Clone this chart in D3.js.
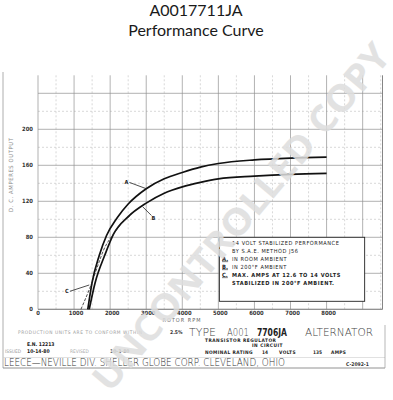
<!DOCTYPE html>
<html><head><meta charset="utf-8">
<script src="https://cdn.jsdelivr.net/npm/d3@7"></script>
<style>
html,body{margin:0;padding:0;background:#fff;}
svg{display:block;}
</style></head>
<body>
<svg id="c" width="393" height="400"></svg>
<script>
// ---- data ----
const titleLines = ["A0017711JA", "Performance Curve"];
const xTicks = [0, 1000, 2000, 3000, 4000, 5000, 6000, 7000, 8000];
const yTicks = [0, 40, 80, 120, 160, 200];
// curve A: room ambient (rpm, amps)
const curveA_rpm  = [1380, 1500, 1700, 1900, 2200, 2500, 3000, 3500, 4000, 4500, 5000, 6000, 7000, 8000];
const curveA_amps = [0, 30, 60, 82, 102, 117, 134, 145, 152, 158, 162, 166, 168, 169];
// curve B: 200F ambient
const curveB_rpm  = [1420, 1580, 1850, 2100, 2500, 3000, 3500, 4000, 4500, 5000, 6000, 7000, 8000];
const curveB_amps = [0, 29, 60, 84, 103, 118, 129, 136, 141, 145, 148, 150, 151];
// curve C: max amps at 12.6 to 14 volts (dashed)
const curveC_rpm  = [1190, 1450, 1680, 1820, 2100, 2330, 2560];
const curveC_amps = [0, 25, 51, 66, 84, 96, 104];
const legendLines = [
  ["", "14    VOLT STABILIZED PERFORMANCE", false],
  ["", "BY S.A.E. METHOD   J56", false],
  ["A.", "IN ROOM AMBIENT", false],
  ["B.", "IN 200°F AMBIENT", false],
  ["C.", "MAX. AMPS AT 12.6  TO  14 VOLTS", true],
  ["", "STABILIZED IN 200°F AMBIENT.", true]
];

const svg = d3.select("#c");
const x = d3.scaleLinear().domain([0, 9550]).range([38, 382.5]);
const y = d3.scaleLinear().domain([0, 260]).range([309.3, 75.3]);

// title
svg.append("g").selectAll("text").data(titleLines).join("text")
  .attr("x", 196).attr("y", (d,i)=>16+i*20)
  .attr("text-anchor","middle")
  .style("font-family","Lato, 'Open Sans', sans-serif")
  .style("font-size","16px").attr("fill","#1a1a1a").text(d=>d);

// grid
const g = svg.append("g");
const majX = d3.range(0, 9001, 1000), minX = d3.range(500, 9600, 1000);
const majY = d3.range(0, 261, 40), minY = d3.range(20, 260, 40);
g.selectAll(".mnx").data(minX).join("line")
  .attr("x1",d=>x(d)).attr("x2",d=>x(d)).attr("y1",y(0)).attr("y2",y(260))
  .attr("stroke","#bdbdbd").attr("stroke-width",0.6).attr("stroke-dasharray","2,2");
g.selectAll(".mny").data(minY).join("line")
  .attr("x1",x(0)).attr("x2",x(9550)).attr("y1",d=>y(d)).attr("y2",d=>y(d))
  .attr("stroke","#bdbdbd").attr("stroke-width",0.6).attr("stroke-dasharray","2,2");
g.selectAll(".mjx").data(majX).join("line")
  .attr("x1",d=>x(d)).attr("x2",d=>x(d)).attr("y1",y(0)).attr("y2",y(260))
  .attr("stroke","#909090").attr("stroke-width",0.7);
g.selectAll(".mjy").data(majY).join("line")
  .attr("x1",x(0)).attr("x2",x(9550)).attr("y1",d=>y(d)).attr("y2",d=>y(d))
  .attr("stroke","#909090").attr("stroke-width",0.7);
g.append("line").attr("x1",x(9550)).attr("x2",x(9550)).attr("y1",y(0)).attr("y2",y(260))
  .attr("stroke","#777").attr("stroke-width",0.9);
g.append("line").attr("x1",x(0)).attr("x2",x(9550)).attr("y1",y(0)).attr("y2",y(0))
  .attr("stroke","#777").attr("stroke-width",0.8);

// axes labels
const tickFont = "'DejaVu Sans Condensed','DejaVu Sans',sans-serif";
svg.append("g").selectAll("text").data(yTicks).join("text")
  .attr("x", 33).attr("y", d=>y(d)+2)
  .attr("text-anchor","end").style("font-family",tickFont).style("font-weight","bold")
  .style("font-size","5.8px").attr("fill","#333").text(d=>d);
svg.append("g").selectAll("text").data(xTicks).join("text")
  .attr("x", d=>x(d)+ (d===0?0:2)).attr("y", 315)
  .attr("text-anchor","middle").style("font-family",tickFont).style("font-weight","bold")
  .style("font-size","5.8px").attr("fill","#333").text(d=>d);
svg.append("text").attr("x", 182).attr("y", 322).attr("text-anchor","middle")
  .style("font-family",tickFont).style("font-size","5.5px").attr("fill","#666")
  .attr("letter-spacing","1").text("ROTOR  RPM");
svg.append("text").attr("transform","translate(13,175) rotate(-90)").attr("text-anchor","middle")
  .style("font-family",tickFont).style("font-size","5.8px").attr("fill","#8a8a8a")
  .attr("textLength", 74).attr("lengthAdjust","spacing")
  .text("D. C.  AMPERES  OUTPUT");

// curves
const line = d3.line().x(d=>x(d[0])).y(d=>y(d[1])).curve(d3.curveMonotoneX);
const A = curveA_rpm.map((r,i)=>[r, curveA_amps[i]]);
const B = curveB_rpm.map((r,i)=>[r, curveB_amps[i]]);
const C = curveC_rpm.map((r,i)=>[r, curveC_amps[i]]);
svg.append("path").datum(A).attr("d", line).attr("fill","none").attr("stroke","#111").attr("stroke-width",1.7);
svg.append("path").datum(B).attr("d", line).attr("fill","none").attr("stroke","#111").attr("stroke-width",1.7);
svg.append("path").datum(C).attr("d", line).attr("fill","none").attr("stroke","#222").attr("stroke-width",0.8).attr("stroke-dasharray","3,1.5");

// curve annotations: label position (rpm, amps) and leader end (rpm, amps)
const annLabels = ["A", "B", "C"];
const annText = [[2450, 141], [3200, 102], [800, 20]];
const annEnd  = [[3000, 134], [2900, 114], [1420, 27]];
const ann = svg.append("g");
annLabels.forEach((lab,i)=>{
  ann.append("text").attr("x", x(annText[i][0])).attr("y", y(annText[i][1])+2)
    .attr("text-anchor","middle").style("font-family",tickFont).style("font-weight","bold")
    .style("font-size","5.6px").attr("fill","#222").text(lab);
  const sx = x(annText[i][0]) + (i===1 ? -2 : 3), sy = y(annText[i][1]) + (i===1 ? -2 : 0);
  ann.append("line").attr("x1",sx).attr("y1",sy)
    .attr("x2",x(annEnd[i][0])).attr("y2",y(annEnd[i][1]))
    .attr("stroke","#222").attr("stroke-width",0.8);
});

// legend box
const lb = svg.append("g");
lb.append("rect").attr("x", x(5000)+1).attr("y", y(80)).attr("width", x(9000)-x(5000)+1).attr("height", y(20)-y(80)+10)
  .attr("fill","#fff").attr("stroke","#222").attr("stroke-width",0.9);
legendLines.forEach((l,i)=>{
  const yy = 244.5 + i*8;
  if (l[0]) {
    lb.append("text").attr("x", 222).attr("y", yy).style("font-family",tickFont)
      .style("font-size","5.8px").style("font-weight","bold").attr("fill","#222")
      .attr("text-decoration","underline").text(l[0]);
  }
  lb.append("text").attr("x", 232).attr("y", yy).style("font-family",tickFont)
    .style("font-size","5.6px").style("font-weight", l[2] ? "bold" : "normal")
    .attr("letter-spacing","0.55").attr("fill","#222").text(l[1]);
});

// title block
const tb = svg.append("g");
tb.append("line").attr("x1",3).attr("x2",3).attr("y1",72).attr("y2",368).attr("stroke","#999").attr("stroke-width",0.8);
tb.append("line").attr("x1",3).attr("x2",385).attr("y1",368).attr("y2",368).attr("stroke","#777").attr("stroke-width",0.8);
tb.append("line").attr("x1",3).attr("x2",385).attr("y1",357.5).attr("y2",357.5).attr("stroke","#ccc").attr("stroke-width",0.6);
tb.append("line").attr("x1",385).attr("x2",385).attr("y1",325).attr("y2",368).attr("stroke","#999").attr("stroke-width",0.7);
const small = (t, xx, yy, opt={}) => {
  const s = tb.append("text").attr("x",xx).attr("y",yy)
  .style("font-family", opt.font || tickFont).style("font-size", (opt.size||5.2)+"px")
  .style("font-weight", opt.weight || (opt.bold ? "bold" : "normal")).attr("fill", opt.fill || "#222")
  .attr("letter-spacing", opt.ls || 0).attr("text-anchor", opt.anchor || "start").text(t);
  if (opt.len) s.attr("textLength", opt.len).attr("lengthAdjust","spacingAndGlyphs");
  return s;
};
const lightFont = "'DejaVu Sans',sans-serif";
small("PRODUCTION  UNITS  ARE  TO  CONFORM  WITHIN", 18, 334, {fill:"#9a9a9a", size:4.8, ls:0.6});
small("2.5%", 170, 334, {bold:true, size:5, fill:"#333"});
small("TYPE", 189, 336, {font:lightFont, size:11, fill:"#444", weight:200, len:27});
small("A001", 227, 336, {font:lightFont, size:11, fill:"#444", weight:200, len:22});
small("7706JA", 257, 336, {font:tickFont, size:11, fill:"#222", bold:true, len:30});
small("ALTERNATOR", 305, 336, {font:lightFont, size:11, fill:"#444", weight:200, len:68});
small("TRANSISTOR   REGULATOR", 205, 342, {bold:true, size:4.8, ls:0.5});
small("IN  CIRCUIT", 252, 347, {bold:true, size:4.8, ls:0.5});
small("E.N. 12213", 27, 346, {bold:true, size:5});
small("ISSUED", 5, 352.5, {size:4.8, fill:"#999"});
small("10-14-80", 27, 352.5, {bold:true, size:5});
small("REVISED", 70, 352.5, {size:4.8, fill:"#aaa"});
small("10-3-80", 110, 352.5, {bold:true, size:5, fill:"#555"});
small("NOMINAL RATING", 205, 354, {bold:true, size:4.8, ls:0.4});
small("14", 262, 354, {bold:true, size:4.8});
small("VOLTS", 279, 354, {bold:true, size:4.8, ls:0.4});
small("135", 313, 354, {bold:true, size:4.8});
small("AMPS", 331, 354, {bold:true, size:4.8, ls:0.3});
small("LEECE—NEVILLE   DIV. SHELLER GLOBE CORP. CLEVELAND, OHIO", 4, 366,
  {font:lightFont, size:10, fill:"#333", weight:200, len:281});
small("C-2092-1", 346, 365.5, {bold:true, size:5, fill:"#333"});

// watermark
svg.append("text").attr("transform","translate(240,216) rotate(-50)")
  .attr("text-anchor","middle").attr("dominant-baseline","central")
  .style("font-family","'Open Sans', 'DejaVu Sans', sans-serif").style("font-weight","bold")
  .style("font-size","37px").attr("fill","#dedede").attr("opacity",0.85)
  .attr("textLength", 440).attr("lengthAdjust","spacingAndGlyphs")
  .text("UNCONTROLLED COPY");
</script>
</body></html>
